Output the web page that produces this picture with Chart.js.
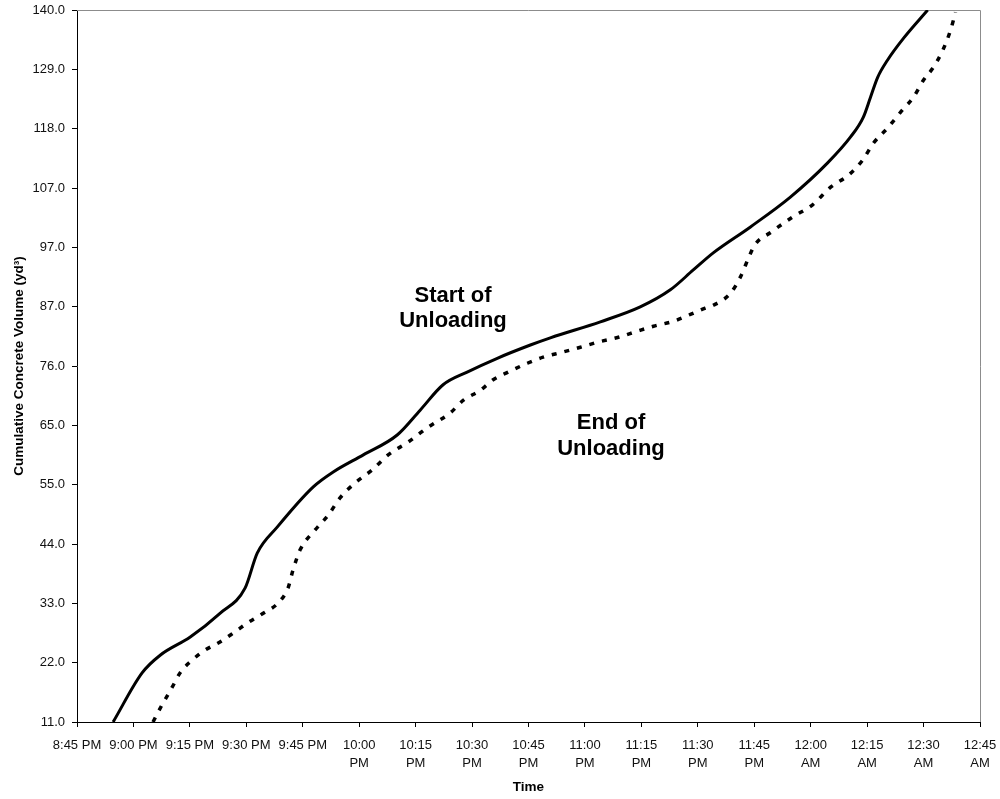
<!DOCTYPE html>
<html>
<head>
<meta charset="utf-8">
<script src="https://cdn.jsdelivr.net/npm/chart.js@4"></script>
<style>
  html, body { margin: 0; padding: 0; background: #fff; }
  #wrap { width: 1000px; height: 799px; position: relative; }
</style>
</head>
<body>
<div id="wrap"><canvas id="concreteChart"></canvas></div>
<script>
// minutes after 8:45 PM
const timeLabels = [
  "8:45 PM", "9:00 PM", "9:15 PM", "9:30 PM", "9:45 PM",
  ["10:00", "PM"], ["10:15", "PM"], ["10:30", "PM"], ["10:45", "PM"],
  ["11:00", "PM"], ["11:15", "PM"], ["11:30", "PM"], ["11:45", "PM"],
  ["12:00", "AM"], ["12:15", "AM"], ["12:30", "AM"], ["12:45", "AM"]
];
const volumeLabels = ["11.0", "22.0", "33.0", "44.0", "55.0", "65.0", "76.0",
  "87.0", "97.0", "107.0", "118.0", "129.0", "140.0"];

const startMinutes = [9.6, 17.3, 22.1, 30.1, 38.0, 44.7, 47.9, 53.2, 62.8, 68.1,
  76.1, 85.1, 91.2, 97.3, 103.7, 111.7, 120.5, 125.8, 139.1, 149.7, 157.7,
  163.8, 169.1, 179.0, 189.6, 199.5, 205.6, 209.0, 210.9, 212.8, 215.4, 219.7, 226.1];
const startVolume = [11.0, 19.9, 23.1, 26.4, 30.7, 35.3, 41.6, 46.3, 53.6, 56.3,
  59.4, 63.0, 67.5, 72.1, 74.4, 76.9, 79.3, 80.6, 83.5, 86.2, 89.3,
  92.9, 96.0, 100.7, 106.1, 112.3, 117.0, 120.6, 124.2, 127.8, 130.9, 134.9, 140.0];

const endMinutes = [20.2, 22.6, 25.3, 27.4, 30.1, 34.0, 38.0, 41.5, 45.2, 49.5,
  53.5, 56.1, 57.4, 59.3, 63.3, 66.8, 69.9, 73.9, 78.5, 82.7, 88.0, 93.1,
  99.2, 102.7, 107.2, 110.6, 114.6, 119.7, 123.9, 129.0, 133.8, 138.3, 143.9,
  148.9, 153.2, 158.5, 162.5, 167.0, 169.1, 173.7, 176.3, 178.5, 180.1, 184.6,
  190.2, 195.5, 200.3, 205.1, 208.8, 211.7, 215.4, 219.4, 222.3, 225.0, 227.7,
  230.1, 232.2, 233.5];
const endVolume = [11.0, 14.1, 17.3, 19.9, 21.9, 24.0, 25.5, 27.1, 28.9, 30.7,
  32.6, 35.3, 38.5, 42.2, 45.8, 48.5, 51.6, 54.3, 56.7, 59.4, 61.7, 64.3,
  67.0, 69.3, 71.1, 73.0, 74.4, 76.0, 77.1, 78.0, 78.9, 79.8, 80.7,
  81.8, 82.7, 83.6, 84.7, 86.0, 86.5, 88.7, 91.6, 95.1, 97.4, 99.8,
  102.5, 104.7, 107.9, 110.1, 112.8, 115.9, 118.6, 121.9, 124.2, 127.3, 129.7,
  132.7, 136.4, 139.6];

const toPoints = (xs, ys) => xs.map((x, i) => ({ x: x, y: ys[i] }));

// let layout.padding alone decide the plot margins
const noOverhang = (axis) => {
  axis.paddingLeft = 0;
  axis.paddingRight = 0;
  axis.paddingTop = 0;
  axis.paddingBottom = 0;
};

// gray top/right frame and the two text notes
const framePlugin = {
  id: "frame",
  beforeDatasetsDraw(chart) {
    const { ctx, chartArea: a } = chart;
    ctx.save();
    ctx.strokeStyle = "#8c8c8c";
    ctx.lineWidth = 1;
    ctx.beginPath();
    ctx.moveTo(a.left, a.top + 0.5);
    ctx.lineTo(a.right + 0.5, a.top + 0.5);
    ctx.lineTo(a.right + 0.5, a.bottom);
    ctx.stroke();
    ctx.restore();
  },
  afterDatasetsDraw(chart) {
    const ctx = chart.ctx;
    ctx.save();
    ctx.font = "bold 22px Arial, 'Liberation Sans', sans-serif";
    ctx.fillStyle = "#000";
    ctx.textAlign = "center";
    ctx.textBaseline = "alphabetic";
    ctx.fillText("Start of", 453, 302);
    ctx.fillText("Unloading", 453, 327);
    ctx.fillText("End of", 611, 429);
    ctx.fillText("Unloading", 611, 455);
    ctx.restore();
  }
};

new Chart(document.getElementById("concreteChart"), {
  type: "line",
  data: {
    datasets: [
      {
        label: "Start of Unloading",
        data: toPoints(startMinutes, startVolume),
        borderColor: "#000",
        borderWidth: 3,
        pointRadius: 0,
        cubicInterpolationMode: "monotone",
        fill: false
      },
      {
        label: "End of Unloading",
        data: toPoints(endMinutes, endVolume),
        borderColor: "#000",
        borderWidth: 3.5,
        borderDash: [5, 8],
        pointRadius: 0,
        cubicInterpolationMode: "monotone",
        fill: false
      }
    ]
  },
  options: {
    responsive: true,
    maintainAspectRatio: false,
    animation: false,
    layout: { padding: { top: 10, right: 20, left: 0, bottom: 0 } },
    plugins: {
      legend: { display: false },
      tooltip: { enabled: false }
    },
    scales: {
      x: {
        type: "linear",
        min: 0,
        max: 240,
        afterFit: (axis) => { axis.height = 77; noOverhang(axis); },
        afterBuildTicks: (axis) => {
          axis.ticks = timeLabels.map((l, i) => ({ value: i * 15 }));
        },
        ticks: {
          autoSkip: false,
          maxRotation: 0,
          padding: 9,
          color: "#111",
          font: { family: "Arial, 'Liberation Sans', sans-serif", size: 13, lineHeight: "18px" },
          callback: (v, i) => timeLabels[i]
        },
        grid: { display: true, drawOnChartArea: false, drawTicks: true, tickLength: 5, color: "#000" },
        border: { display: true, color: "#000", width: 1 },
        title: {
          display: true,
          text: "Time",
          color: "#000",
          font: { family: "Arial, 'Liberation Sans', sans-serif", size: 13.5, weight: "bold" },
          padding: { top: 0, bottom: 4 }
        }
      },
      y: {
        min: 11,
        max: 140,
        afterFit: (axis) => { axis.width = 77; noOverhang(axis); },
        afterBuildTicks: (axis) => {
          const step = (140 - 11) / (volumeLabels.length - 1);
          axis.ticks = volumeLabels.map((l, i) => ({ value: 11 + i * step }));
        },
        ticks: {
          autoSkip: false,
          padding: 7,
          color: "#111",
          font: { family: "Arial, 'Liberation Sans', sans-serif", size: 13 },
          callback: (v, i) => volumeLabels[i]
        },
        grid: { display: true, drawOnChartArea: false, drawTicks: true, tickLength: 5, color: "#000" },
        border: { display: true, color: "#000", width: 1 },
        title: {
          display: true,
          text: "Cumulative Concrete Volume (yd³)",
          color: "#000",
          font: { family: "Arial, 'Liberation Sans', sans-serif", size: 13.5, weight: "bold" },
          padding: { top: 11, bottom: 0 }
        }
      }
    }
  },
  plugins: [framePlugin]
});
</script>
</body>
</html>
